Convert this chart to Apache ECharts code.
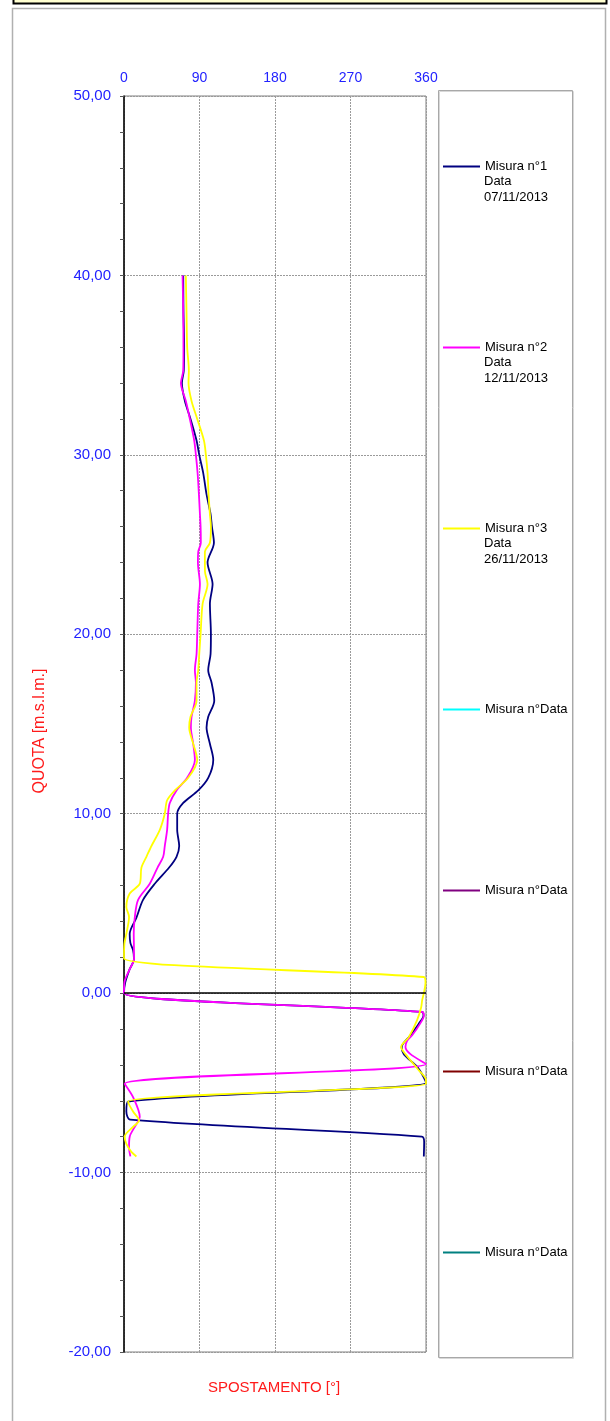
<!DOCTYPE html>
<html><head><meta charset="utf-8">
<script src="https://cdn.jsdelivr.net/npm/echarts@6/dist/echarts.min.js"></script>
<style>html,body{margin:0;padding:0;background:#fff}#c{width:610px;height:1421px}</style>
</head><body><div id="c"></div>
<script>
// ---- DATA ----
const quota1 = [40.0, 38.0, 36.0, 34.7, 34.0, 33.0, 32.0, 30.8, 30.0, 29.0, 27.8, 26.7, 26.0, 25.1, 24.0, 22.8, 21.7, 20.0, 18.9, 18.0, 17.3, 16.3, 15.4, 14.8, 13.9, 13.0, 12.0, 11.3, 10.6, 10.0, 9.1, 8.2, 7.6, 7.0, 6.1, 5.2, 4.2, 3.3, 2.8, 2.4, 1.9, 1.3, 0.6, 0.0, -1.05, -1.25, -1.7, -2.35, -3.0, -3.4, -4.1, -4.7, -5.0, -6.05, -6.6, -7.05, -8.0, -8.3, -9.1];
const angle1 = [70.6, 70.9, 71.7, 71.3, 69.0, 72.6, 79.3, 86.5, 89.7, 94.4, 98.4, 103.2, 104.8, 107.2, 99.6, 105.6, 102.4, 103.6, 103.2, 100.4, 104.4, 107.6, 100.4, 98.4, 102.4, 106.4, 100.4, 88.5, 70.6, 63.4, 63.4, 65.8, 62.6, 53.8, 36.7, 22.7, 14.8, 6.8, 7.6, 10.8, 11.9, 6.4, 1.5, 0.0, 355.4, 357.0, 351.4, 341.5, 331.0, 333.5, 349.4, 357.4, 360.0, 4.8, 2.8, 7.5, 355.0, 357.8, 357.4];

const quota2 = [40.0, 38.0, 36.0, 34.7, 34.0, 33.0, 32.0, 30.8, 30.0, 29.0, 27.8, 26.7, 26.0, 25.1, 24.6, 24.0, 22.8, 21.7, 20.0, 18.9, 18.0, 17.3, 16.3, 15.4, 14.8, 13.9, 13.0, 12.0, 11.3, 10.6, 10.0, 9.1, 8.2, 7.6, 7.0, 6.1, 5.2, 4.2, 3.3, 2.4, 1.9, 1.3, 0.6, 0.0, -1.05, -1.25, -1.7, -2.35, -2.65, -3.0, -3.4, -3.95, -5.05, -5.8, -6.9, -7.3, -8.0, -8.6, -9.1];
const angle2 = [69.8, 70.6, 70.9, 70.6, 67.8, 73.7, 78.5, 83.7, 85.7, 87.7, 89.3, 90.5, 91.3, 91.6, 88.5, 88.1, 90.5, 88.5, 87.3, 86.5, 84.5, 85.7, 84.5, 80.5, 79.7, 82.5, 84.5, 75.3, 62.6, 54.6, 52.6, 51.4, 48.6, 46.7, 40.0, 30.7, 16.8, 12.8, 11.6, 11.9, 11.9, 6.4, 0.5, 0.0, 355.4, 357.5, 353.0, 343.5, 337.5, 335.5, 341.5, 360.0, 0.8, 10.8, 18.8, 14.8, 6.8, 6.0, 7.6];

const quota3 = [40.0, 38.0, 36.0, 34.7, 34.0, 33.0, 32.0, 30.8, 30.0, 29.0, 27.8, 26.7, 26.0, 25.1, 24.6, 24.0, 23.5, 22.8, 21.7, 20.0, 18.9, 18.0, 17.3, 16.3, 15.4, 14.8, 13.9, 13.0, 12.0, 11.3, 10.75, 10.0, 9.1, 8.2, 7.6, 7.0, 6.1, 5.55, 4.8, 4.25, 3.3, 2.75, 1.95, 0.9, 0.6, 0.0, -0.4, -0.8, -1.5, -2.45, -3.0, -3.4, -4.3, -4.85, -5.05, -6.05, -6.6, -7.1, -7.45, -8.0, -8.4, -8.85, -9.1];
const angle3 = [73.7, 74.5, 75.3, 77.3, 76.9, 80.5, 87.3, 95.3, 97.6, 99.6, 100.8, 102.4, 103.6, 102.4, 96.4, 96.4, 96.5, 99.6, 93.7, 91.3, 89.7, 88.5, 86.5, 86.5, 79.3, 77.7, 82.5, 87.3, 76.5, 60.6, 51.4, 48.6, 42.7, 32.7, 26.7, 20.8, 18.8, 6.8, 2.8, 6.0, 2.8, 0.5, 0.0, 357.4, 359.4, 357.4, 355.4, 354.2, 349.4, 339.5, 330.3, 335.5, 351.4, 360.0, 360.0, 4.8, 10.8, 18.0, 10.8, 0.8, 2.8, 8.8, 14.8];

const seriesNames = ['Misura n°1', 'Misura n°2', 'Misura n°3', 'Misura n°Data#4', 'Misura n°Data#5', 'Misura n°Data#6', 'Misura n°Data#7'];
const seriesDates = ['07/11/2013', '12/11/2013', '26/11/2013'];
const xTickValues = [0, 90, 180, 270, 360];
const yTickValues = [-20, -10, 0, 10, 20, 30, 40, 50];

// ---- STYLE / LAYOUT ----
const FONT = '"Liberation Sans", Arial, sans-serif';
const colors = ['#000080', '#ff00ff', '#ffff00', '#00ffff', '#800080', '#800000', '#008080'];
const legendCenters = [166, 347, 528, 709, 890, 1071, 1252];
const labelBlue = '#2222ff';
const titleRed = '#ff1a1a';

const quotas = [quota1, quota2, quota3, [], [], [], []];
const angles = [angle1, angle2, angle3, [], [], [], []];

const series = seriesNames.map((name, i) => {
  const s = {
    type: 'line', name,
    data: quotas[i].map((q, k) => [angles[i][k], q]),
    smooth: 0.3, symbol: 'none', showSymbol: false,
    lineStyle: { color: colors[i], width: 1.8 },
    itemStyle: { color: colors[i] },
    animation: false
  };
  if (i === 0) {
    s.markLine = {
      silent: true, symbol: 'none', animation: false,
      label: { show: false },
      lineStyle: { color: '#000', width: 1.5, type: 'solid' },
      data: [{ yAxis: 0 }]
    };
  }
  return s;
});

const legends = seriesNames.map((name, i) => ({
  data: [{ name, icon: 'rect', itemStyle: { color: colors[i] } }],
  left: 443, top: legendCenters[i] - 6,
  padding: 0, itemWidth: 37, itemHeight: 2,
  selectedMode: false,
  formatter: n => n.split('#')[0],
  textStyle: { fontFamily: FONT, fontSize: 13, color: '#000' }
}));

const graphics = [
  { type: 'rect', shape: { x: 13.5, y: -10, width: 593, height: 13.5 }, style: { fill: '#ffffd0', stroke: '#000', lineWidth: 2 }, z: 0 },
  { type: 'rect', shape: { x: 12.5, y: 8.5, width: 593, height: 1430 }, style: { fill: 'none', stroke: '#b0b0b0', lineWidth: 1.5 }, z: 0 },
  { type: 'rect', shape: { x: 439.5, y: 91.5, width: 134, height: 1267 }, style: { fill: 'none', stroke: '#d8d8d8', lineWidth: 1 }, z: 0 },
  { type: 'rect', shape: { x: 438.5, y: 90.5, width: 134, height: 1267 }, style: { fill: 'none', stroke: '#a8a8a8', lineWidth: 1 }, z: 0 },
  { type: 'text', x: 39.5, y: 731, rotation: Math.PI / 2, style: { text: 'QUOTA [m.s.l.m.]', fill: titleRed, font: '16px ' + FONT, align: 'center', verticalAlign: 'middle' } },
  { type: 'text', x: 274, y: 1388, style: { text: 'SPOSTAMENTO [°]', fill: titleRed, font: '15px ' + FONT, align: 'center', verticalAlign: 'middle' } }
];
seriesDates.forEach((d, i) => {
  graphics.push({ type: 'text', x: 484, y: legendCenters[i] + 15.5, style: { text: 'Data', fill: '#000', font: '13px ' + FONT, align: 'left', verticalAlign: 'middle' } });
  graphics.push({ type: 'text', x: 484, y: legendCenters[i] + 31, style: { text: d, fill: '#000', font: '13px ' + FONT, align: 'left', verticalAlign: 'middle' } });
});

const chart = echarts.init(document.getElementById('c'), null, { renderer: 'canvas' });
chart.setOption({
  animation: false,
  backgroundColor: '#fff',
  grid: { left: 124, right: 184, top: 96, bottom: 69, show: true, borderColor: '#808080', borderWidth: 1 },
  xAxis: {
    type: 'value', position: 'top', min: xTickValues[0], max: xTickValues[xTickValues.length - 1], interval: xTickValues[1] - xTickValues[0],
    axisLine: { show: false }, axisTick: { show: false },
    axisLabel: { color: labelBlue, fontSize: 14, fontFamily: FONT, margin: 11 },
    splitLine: { show: true, lineStyle: { color: '#9a9a9a', type: [2, 1], width: 1 } }
  },
  yAxis: {
    type: 'value', min: yTickValues[0], max: yTickValues[yTickValues.length - 1], interval: yTickValues[1] - yTickValues[0],
    axisLine: { show: true, onZero: false, lineStyle: { color: '#000', width: 1.5 } },
    axisTick: { show: true, length: 4, lineStyle: { color: '#555' } },
    minorTick: { show: true, splitNumber: 5, length: 4, lineStyle: { color: '#555' } },
    axisLabel: { color: labelBlue, fontSize: 15, fontFamily: FONT, margin: 13, formatter: v => v.toFixed(2).replace('.', ',') },
    splitLine: { show: true, lineStyle: { color: '#9a9a9a', type: [2, 1], width: 1 } }
  },
  legend: legends,
  graphic: graphics,
  series
});
</script></body></html>
